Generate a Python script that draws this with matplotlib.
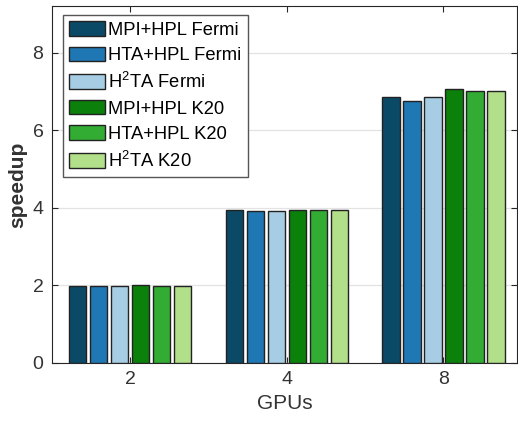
import matplotlib
matplotlib.use("Agg")
import matplotlib.pyplot as plt
import numpy as np

plt.rcParams["font.family"] = ["Liberation Sans", "DejaVu Sans"]
plt.rcParams["mathtext.fontset"] = "custom"
plt.rcParams["mathtext.rm"] = "Liberation Sans"

# ── data ──────────────────────────────────────────────────────────
gpus = ["2", "4", "8"]
series = ["MPI+HPL Fermi", "HTA+HPL Fermi", r"H$^2$TA Fermi",
          "MPI+HPL K20", "HTA+HPL K20", r"H$^2$TA K20"]
mpi_fermi = [1.98, 3.95, 6.86]
hta_fermi = [1.98, 3.92, 6.75]
h2ta_fermi = [1.98, 3.92, 6.86]
mpi_k20 = [2.00, 3.95, 7.05]
hta_k20 = [1.98, 3.95, 7.02]
h2ta_k20 = [1.98, 3.95, 7.02]
values = [mpi_fermi, hta_fermi, h2ta_fermi, mpi_k20, hta_k20, h2ta_k20]

colors = ["#0B4A66", "#1F77B4", "#A6CDE4", "#0B800B", "#33AC33", "#B2DF8A"]
TXT = "#262626"

# ── figure ────────────────────────────────────────────────────────
fig = plt.figure(figsize=(5.18, 4.29), dpi=100)
ax = fig.add_axes([0.100, 0.1545, 0.898, 0.8315])

x = np.arange(1, len(gpus) + 1)
pitch, width = 0.134, 0.111
for i, (vals, lab, c) in enumerate(zip(values, series, colors)):
    ax.bar(x + (i - 2.5) * pitch, vals, width, color=c, edgecolor="#222222",
           linewidth=1.0, label=lab, zorder=3)

ax.set_xlim(0.5, 3.47)
ax.set_ylim(0, 9.2)
ax.set_xticks(x)
ax.set_xticklabels(gpus)
ax.set_yticks([0, 2, 4, 6, 8])
ax.yaxis.grid(True, color="#E3E3E3", linewidth=0.9, zorder=0)
ax.set_axisbelow(True)

ax.tick_params(direction="in", top=True, right=True, length=4,
               width=0.8, color=TXT, labelsize=14, labelcolor="#333333", pad=6)
for s in ax.spines.values():
    s.set_color(TXT)
    s.set_linewidth(0.8)

ax.set_xlabel("GPUs", fontsize=15, color="#333333", labelpad=4)
ax.set_ylabel("speedup", fontsize=15, color="#333333", labelpad=4,
              fontweight="semibold")

leg = ax.legend(loc="upper left", bbox_to_anchor=(0.024, 0.975),
                borderaxespad=0, fontsize=13.2, handlelength=1.95,
                handleheight=0.85, handletextpad=0.15, labelspacing=0.42,
                borderpad=0.35, fancybox=False, framealpha=1,
                edgecolor="#555555")
leg.get_frame().set_linewidth(1.0)

fig.savefig("out.png", dpi=100, facecolor="white")
